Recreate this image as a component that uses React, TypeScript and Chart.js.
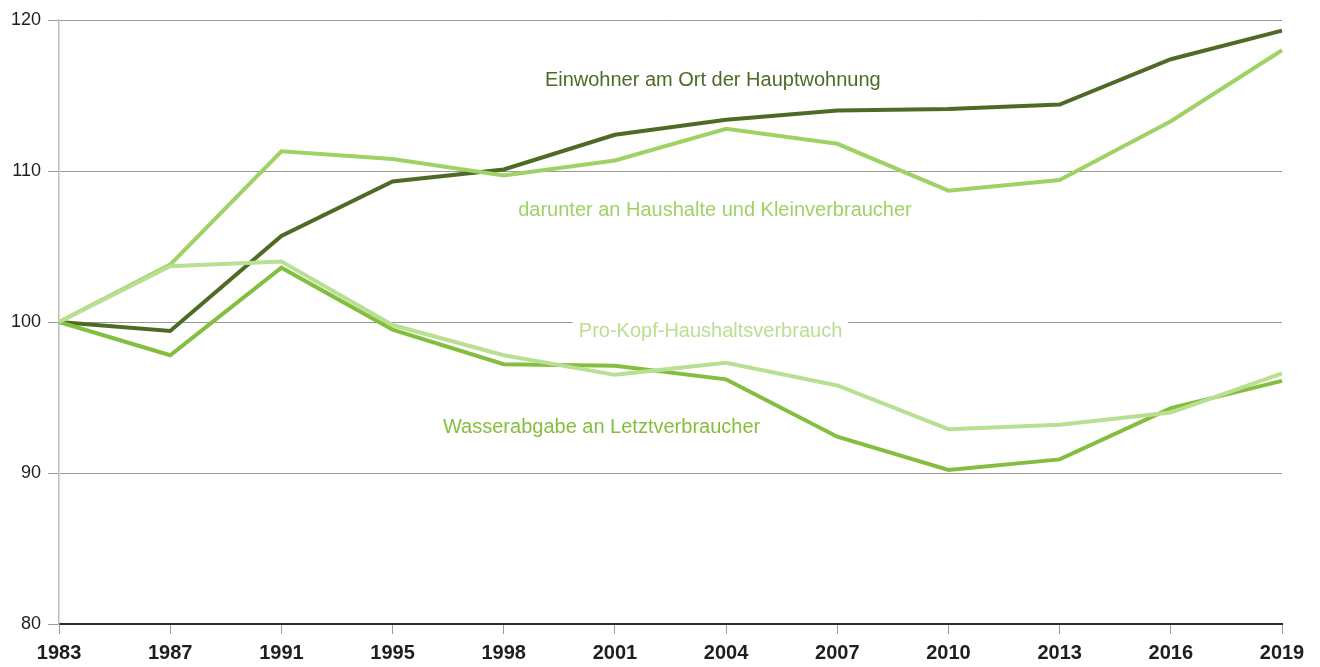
import React, { useEffect, useRef } from "react";
import { Chart, registerables } from "chart.js";

Chart.register(...registerables);

const years = ["1983", "1987", "1991", "1995", "1998", "2001", "2004", "2007", "2010", "2013", "2016", "2019"];
const einwohner = [100, 99.4, 105.7, 109.3, 110.1, 112.4, 113.4, 114.0, 114.1, 114.4, 117.4, 119.3];
const haushalte = [100, 103.8, 111.3, 110.8, 109.7, 110.7, 112.8, 111.8, 108.7, 109.4, 113.3, 118.0];
const proKopf = [100, 103.7, 104.0, 99.8, 97.8, 96.5, 97.3, 95.8, 92.9, 93.2, 94.0, 96.6];
const wasserabgabe = [100, 97.8, 103.6, 99.5, 97.2, 97.1, 96.2, 92.4, 90.2, 90.9, 94.3, 96.1];
const yTicks = [80, 90, 100, 110, 120];

const seriesLabels = [
  "Einwohner am Ort der Hauptwohnung",
  "darunter an Haushalte und Kleinverbraucher",
  "Pro-Kopf-Haushaltsverbrauch",
  "Wasserabgabe an Letztverbraucher",
];
const colors = ["#4e6a24", "#9fd264", "#b9df93", "#84be3e"];
// label anchor: [category index (fractional), value]
const labelAnchors: [number, number][] = [
  [5.88, 116.0],
  [5.9, 107.4],
  [5.86, 99.4],
  [4.88, 93.0],
];

const FONT = "'Liberation Sans', Arial, sans-serif";
const LABEL_FONT = `20px ${FONT}`;

const labelPlugin = {
  id: "seriesLabels",
  beforeDatasetsDraw(chart: any) {
    const { ctx, scales } = chart;
    ctx.save();
    ctx.font = LABEL_FONT;
    const i = 2;
    const x = scales.x.getPixelForValue(labelAnchors[i][0]);
    const y = scales.y.getPixelForValue(labelAnchors[i][1]);
    const w = ctx.measureText(seriesLabels[i]).width;
    ctx.fillStyle = "#ffffff";
    ctx.fillRect(x - w / 2 - 6, y - 13, w + 12, 26);
    ctx.restore();
  },
  afterDatasetsDraw(chart: any) {
    const { ctx, scales } = chart;
    ctx.save();
    ctx.font = LABEL_FONT;
    ctx.textAlign = "center";
    ctx.textBaseline = "middle";
    seriesLabels.forEach((t, i) => {
      const x = scales.x.getPixelForValue(labelAnchors[i][0]);
      const y = scales.y.getPixelForValue(labelAnchors[i][1]);
      ctx.fillStyle = colors[i];
      ctx.fillText(t, x, y);
    });
    ctx.restore();
  },
};

export default function App() {
  const ref = useRef<HTMLCanvasElement>(null);
  useEffect(() => {
    if (!ref.current) return;
    const series = [einwohner, haushalte, proKopf, wasserabgabe];
    const order = [2, 3, 1, 0];
    const chart = new Chart(ref.current, {
      type: "line",
      data: {
        labels: years,
        datasets: order.map((i) => ({
          label: seriesLabels[i],
          data: series[i],
          borderColor: colors[i],
          backgroundColor: colors[i],
          borderWidth: 4,
          pointRadius: 0,
          tension: 0,
          fill: false,
        })),
      },
      options: {
        animation: false,
        responsive: true,
        maintainAspectRatio: false,
        layout: { padding: { top: 20, right: 38, left: 4, bottom: -5 } },
        plugins: { legend: { display: false }, tooltip: { enabled: false } },
        scales: {
          x: {
            type: "category",
            offset: false,
            grid: { drawOnChartArea: false, drawTicks: true, tickLength: 10, color: "#9a9a9a", lineWidth: 1 },
            border: { color: "#2b2b2b", width: 2 },
            ticks: { color: "#1e1e1e", font: { family: FONT, size: 20, weight: "bold", lineHeight: 1 }, padding: 9, maxRotation: 0, autoSkip: false },
          },
          y: {
            min: 80,
            max: 120,
            afterBuildTicks: (s: any) => {
              s.ticks = yTicks.map((v) => ({ value: v }));
            },
            grid: { color: "#9a9a9a", lineWidth: 1, tickLength: 11, drawTicks: true },
            border: { color: "#bdbdbd", width: 1.5 },
            ticks: { color: "#1e1e1e", font: { family: FONT, size: 18 }, padding: 7 },
          },
        },
      },
      plugins: [labelPlugin],
    });
    return () => chart.destroy();
  }, []);
  return (
    <div style={{ position: "fixed", left: 0, top: 0, width: 1320, height: 667, background: "#fff" }}>
      <canvas ref={ref} />
    </div>
  );
}
